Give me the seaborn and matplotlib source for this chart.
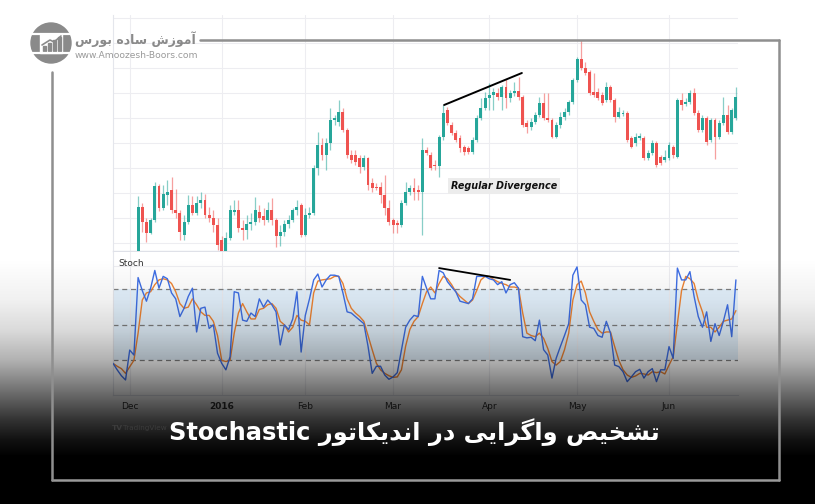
import numpy as np
import pandas as pd
import matplotlib
matplotlib.use("Agg")
import matplotlib.pyplot as plt
import seaborn as sns
from matplotlib.patches import Circle, Rectangle
from matplotlib.lines import Line2D

# ---------------- data ----------------
first_bar = 6
candle_open = [16, 61, 46, 35, 48, 82, 60, 73, 78, 58, 55, 33, 46, 63, 55, 65, 68, 53, 50, 43,
               28, 16, 30, 56, 58, 40, 38, 44, 46, 56, 52, 48, 58, 48, 32, 36, 44, 48, 58, 63,
               33, 53, 55, 100, 123, 113, 125, 148, 146, 156, 138, 113, 113, 110, 101, 110, 85, 81, 81, 73,
               60, 48, 45, 43, 65, 76, 80, 78, 76, 118, 113, 103, 102, 131, 158, 143, 135, 130, 121, 120,
               116, 128, 150, 160, 170, 173, 175, 171, 181, 170, 175, 177, 171, 145, 141, 146, 153, 165, 150, 148,
               131, 143, 151, 156, 166, 188, 209, 200, 196, 176, 176, 173, 168, 181, 168, 151, 154, 155, 130, 125,
               130, 130, 110, 115, 125, 111, 108, 110, 121, 111, 168, 164, 166, 175, 155, 138, 150, 128, 148, 131,
               145, 153, 136, 150]
candle_close = [61, 46, 35, 48, 82, 60, 74, 76, 58, 55, 36, 46, 63, 55, 65, 68, 53, 50, 43, 23,
                16, 30, 58, 58, 40, 38, 44, 46, 58, 50, 48, 58, 48, 32, 36, 44, 48, 58, 61, 33,
                53, 55, 100, 123, 113, 125, 148, 150, 156, 138, 113, 108, 106, 101, 110, 83, 80, 80, 73, 60,
                46, 43, 43, 65, 76, 80, 76, 76, 118, 115, 100, 102, 131, 155, 145, 135, 128, 120, 116, 116,
                128, 150, 160, 170, 173, 176, 171, 181, 170, 175, 177, 171, 143, 141, 146, 153, 165, 150, 148, 131,
                143, 151, 156, 166, 188, 209, 200, 195, 175, 173, 170, 165, 181, 168, 151, 156, 155, 128, 121, 131,
                132, 110, 115, 125, 103, 105, 111, 123, 113, 168, 163, 166, 175, 155, 138, 150, 126, 148, 131, 145,
                153, 136, 158, 171]
candle_high = [72, 65, 50, 50, 86, 84, 83, 88, 91, 79, 58, 53, 73, 72, 72, 76, 74, 61, 58, 50,
               32, 36, 63, 68, 68, 48, 53, 55, 71, 63, 60, 66, 70, 50, 43, 48, 53, 60, 68, 65,
               60, 61, 103, 136, 130, 130, 160, 153, 168, 160, 140, 118, 118, 113, 113, 111, 90, 85, 86, 93,
               68, 50, 48, 68, 86, 83, 90, 83, 130, 121, 116, 108, 133, 163, 161, 146, 138, 133, 123, 122,
               131, 153, 170, 176, 185, 180, 180, 183, 189, 178, 186, 191, 173, 148, 150, 156, 171, 175, 175, 150,
               146, 156, 160, 168, 190, 211, 228, 206, 198, 195, 180, 176, 186, 183, 170, 161, 158, 157, 132, 135,
               135, 132, 118, 128, 127, 113, 118, 126, 123, 170, 175, 170, 178, 180, 158, 153, 152, 150, 150, 148,
               171, 163, 160, 181]
candle_low = [15, 36, 26, 34, 46, 57, 58, 63, 55, 50, 28, 28, 44, 53, 53, 60, 50, 46, 36, 18,
              14, 14, 28, 53, 36, 28, 29, 38, 43, 46, 43, 46, 43, 21, 22, 32, 40, 46, 53, 31,
              32, 50, 53, 93, 108, 98, 118, 143, 142, 136, 110, 105, 103, 95, 98, 78, 76, 78, 65, 53,
              43, 35, 35, 41, 63, 73, 68, 68, 33, 113, 98, 98, 91, 128, 143, 133, 126, 116, 113, 114,
              114, 126, 148, 158, 158, 158, 168, 158, 160, 166, 172, 168, 141, 135, 138, 144, 151, 148, 146, 130,
              130, 140, 148, 153, 164, 186, 198, 193, 173, 171, 168, 163, 166, 166, 146, 150, 152, 126, 120, 122,
              128, 108, 108, 113, 101, 103, 106, 108, 110, 110, 158, 162, 164, 153, 136, 136, 123, 126, 109, 129,
              143, 134, 134, 148]

stoch_k = [17.5, 12, 7, 3.4, 28.7, 24.5, 90, 79, 70, 81, 96, 81, 91, 89, 77, 72, 57, 64, 74, 81,
           44, 64, 65, 47, 50, 26, 17.5, 12, 23, 78, 77, 54, 53, 60, 57, 72, 65, 71, 67, 61,
           33, 50, 46, 55, 78, 27, 58, 72, 88, 93, 82, 88, 92, 92, 91, 77, 61, 60, 57, 54,
           51, 32, 9, 15, 15, 7.6, 4, 6, 9.6, 29, 48, 54, 58, 57, 91, 81, 72, 72, 96, 94,
           86.5, 82, 78, 70, 69, 68, 72, 91, 91, 91, 89, 88, 84, 86.5, 77, 84, 85.6, 81, 40, 39,
           39.5, 36.6, 54, 29, 24.5, 5, 21.7, 31.6, 41, 51, 92, 99, 71, 67, 48, 47, 41, 39.5, 53, 43,
           16, 14.7, 10.4, 2, 6, 10.4, 12.4, 5, 10.4, 13, 2, 12, 12, 31.6, 21.7, 98, 88, 88, 95, 74,
           57, 48, 61, 36, 51, 41, 53, 67, 40, 88]
stoch_d = [17.5, 15, 13, 9, 14.6, 20, 43, 71, 77, 78, 84, 88, 89, 88, 85, 78, 68, 64, 65, 72,
           67, 61, 58, 58, 53, 41, 20, 19, 20, 43, 60, 68, 61, 55, 55, 63, 64, 67, 68, 64,
           53, 50, 44, 48, 58, 54, 53, 50, 77, 87, 88, 88.5, 89, 91, 91, 85, 72, 64, 60, 57,
           53, 41, 29, 17.5, 12, 9, 7, 5.6, 6, 12, 32, 46, 53, 57, 68, 78, 82, 77, 85, 91,
           89, 84, 78, 74, 71, 68, 71, 79, 88, 91, 91, 88.5, 86.5, 85, 84, 82, 82, 81, 60, 43,
           41, 40, 43, 38.6, 30, 19, 16, 19, 29, 43, 71, 84, 87, 77, 61, 53, 46, 43, 44, 44,
           31.6, 20, 12, 7.6, 5.6, 6.8, 9, 8.5, 7.6, 10.4, 9.6, 10.4, 8.5, 16, 23, 51, 79, 91, 89, 85,
           71, 61, 48, 48, 44, 48, 53, 54, 55, 62]
stoch_levels = [20, 50, 80]

month_ticks = [4, 26, 46, 67, 90, 111, 133]
month_labels = ["Dec", "2016", "Feb", "Mar", "Apr", "May", "Jun"]
price_grid = [25, 50, 75, 100, 125, 150, 175, 200, 225, 250]

div_price_x, div_price_y = [79.2, 97.8], [163, 195]
div_stoch_x, div_stoch_y = [78, 95], [98, 88]
div_label = "Regular Divergence"

title_fa = "\u062a\u0634\u062e\u06cc\u0635 \u0648\u0627\u06af\u0631\u0627\u06cc\u06cc \u062f\u0631 \u0627\u0646\u062f\u06cc\u06a9\u0627\u062a\u0648\u0631 Stochastic"
logo_fa = "\u0622\u0645\u0648\u0632\u0634 \u0633\u0627\u062f\u0647 \u0628\u0648\u0631\u0633"
logo_url = "www.Amoozesh-Boors.com"

# ---------------- Persian shaping (presentation forms, visual order) ----------------
FORMS = {
    "\u0627": ("\uFE8D", "\uFE8E", None, None),
    "\u0622": ("\uFE81", "\uFE82", None, None),
    "\u0628": ("\uFE8F", "\uFE90", "\uFE91", "\uFE92"),
    "\u062a": ("\uFE95", "\uFE96", "\uFE97", "\uFE98"),
    "\u062e": ("\uFEA5", "\uFEA6", "\uFEA7", "\uFEA8"),
    "\u062f": ("\uFEA9", "\uFEAA", None, None),
    "\u0631": ("\uFEAD", "\uFEAE", None, None),
    "\u0632": ("\uFEAF", "\uFEB0", None, None),
    "\u0633": ("\uFEB1", "\uFEB2", "\uFEB3", "\uFEB4"),
    "\u0634": ("\uFEB5", "\uFEB6", "\uFEB7", "\uFEB8"),
    "\u0635": ("\uFEB9", "\uFEBA", "\uFEBB", "\uFEBC"),
    "\u0645": ("\uFEE1", "\uFEE2", "\uFEE3", "\uFEE4"),
    "\u0646": ("\uFEE5", "\uFEE6", "\uFEE7", "\uFEE8"),
    "\u0647": ("\uFEE9", "\uFEEA", "\uFEEB", "\uFEEC"),
    "\u0648": ("\uFEED", "\uFEEE", None, None),
    "\u06cc": ("\uFBFC", "\uFBFD", "\uFBFE", "\uFBFF"),
    "\u06a9": ("\uFB8E", "\uFB8F", "\uFB90", "\uFB91"),
    "\u06af": ("\uFB92", "\uFB93", "\uFB94", "\uFB95"),
}


def shape_word(w):
    out = []
    for k, ch in enumerate(w):
        f = FORMS.get(ch)
        if f is None:
            out.append(ch)
            continue
        prev = w[k - 1] if k > 0 else None
        nxt = w[k + 1] if k + 1 < len(w) else None
        jp = prev in FORMS and FORMS[prev][2] is not None
        jn = f[2] is not None and nxt in FORMS
        out.append(f[3] if (jp and jn) else f[1] if jp else f[2] if jn else f[0])
    return "".join(reversed(out))


def rtl(text):
    words = text.split(" ")
    shaped = [shape_word(w) if any(c in FORMS for c in w) else w for w in words]
    return " ".join(reversed(shaped))


# ---------------- figure ----------------
sns.set_theme(style="white")
plt.rcParams["font.family"] = ["DejaVu Sans"]
W, H = 815, 504
fig = plt.figure(figsize=(W / 100, H / 100), dpi=100)
fig.patch.set_facecolor("white")


def box(x0, y0, x1, y1):
    return [x0 / W, 1 - y1 / H, (x1 - x0) / W, (y1 - y0) / H]


GREEN, RED = "#26a69a", "#ef5350"
GRID = "#ededf1"

# price pane
axp = fig.add_axes(box(113, 15, 738, 251))
n = first_bar + len(candle_open)
xs = np.arange(first_bar, n)
o = np.array(candle_open, float)
c = np.array(candle_close, float)
hi = np.array(candle_high, float)
lo = np.array(candle_low, float)
cols = np.where(c >= o, GREEN, RED)
for g in price_grid:
    axp.axhline(g, color=GRID, lw=0.8, zorder=0)
for t in month_ticks:
    axp.axvline(t, color=GRID, lw=0.8, zorder=0)
axp.vlines(xs, lo, hi, colors=cols, lw=0.9, alpha=0.55, zorder=2)
axp.bar(xs, np.where(np.abs(c - o) < 1, 1, c - o), bottom=o, width=0.7, color=cols,
        linewidth=0, zorder=3)
axp.plot(div_price_x, div_price_y, color="black", lw=1.4, zorder=4)
axp.text(80.8, 82, div_label, fontsize=6.9, fontweight="bold", fontstyle="italic",
         color="#111111", va="center", ha="left", zorder=5,
         bbox=dict(boxstyle="square,pad=0.3", fc="#ececec", ec="none"))
axp.set_xlim(0, 149.5)
axp.set_ylim(17, 253)
axp.set_xticks([])
axp.set_yticks([])
for s in ["top", "right"]:
    axp.spines[s].set_visible(False)
axp.spines["left"].set_color("#e4e6ec")
axp.spines["bottom"].set_color("#dfe1e8")
axp.spines["left"].set_linewidth(0.8)
axp.spines["bottom"].set_linewidth(1.0)

# stoch pane
axs = fig.add_axes(box(113, 252, 738, 395))
df = pd.DataFrame({"bar": np.arange(len(stoch_k)), "K": stoch_k, "D": stoch_d})
axs.axhspan(min(stoch_levels), max(stoch_levels), color="#2196f3", alpha=0.12, lw=0, zorder=0)
for t in month_ticks:
    axs.axvline(t, color=GRID, lw=0.8, zorder=0)
axs.axhline(100, color=GRID, lw=0.8, zorder=0)
for lv in stoch_levels:
    axs.axhline(lv, color="#808080", lw=0.9, ls=(0, (4, 3)), zorder=1)
sns.lineplot(data=df, x="bar", y="K", ax=axs, color="#3f6fe6", lw=1.0, zorder=3)
sns.lineplot(data=df, x="bar", y="D", ax=axs, color="#ef8433", lw=1.0, zorder=2)
axs.plot(div_stoch_x, div_stoch_y, color="black", lw=1.3, zorder=4)
axs.text(0.008, 0.92, "Stoch", transform=axs.transAxes, fontsize=6.5, color="#333333",
         va="center", ha="left")
axs.set_xlim(0, 149.5)
axs.set_ylim(-9.3, 111.6)
axs.set_xlabel("")
axs.set_ylabel("")
axs.set_yticks([])
axs.set_xticks(month_ticks)
axs.set_xticklabels(month_labels, fontsize=6.5, color="#333333")
for lab in axs.get_xticklabels():
    if lab.get_text() == "2016":
        lab.set_fontweight("bold")
axs.tick_params(axis="x", length=0, pad=5)
for s in ["top", "right"]:
    axs.spines[s].set_visible(False)
axs.spines["left"].set_color("#e4e6ec")
axs.spines["bottom"].set_color("#dfe1e8")
axs.spines["left"].set_linewidth(0.8)
axs.spines["bottom"].set_linewidth(0.8)

# dark gradient overlay
axo = fig.add_axes([0, 0, 1, 1], zorder=5)
rows = np.arange(H)
alpha = np.interp(rows, [0, 258, 300, 330, 360, 390, 420, 440, 455, H],
                  [0, 0, 0.06, 0.15, 0.31, 0.56, 0.81, 0.94, 1.0, 1.0])
grad = np.zeros((H, 1, 4))
grad[:, 0, 3] = alpha
axo.imshow(grad, aspect="auto", extent=[0, 1, 0, 1], interpolation="bilinear")
axo.set_axis_off()

# decorations on top
axt = fig.add_axes([0, 0, 1, 1], zorder=10)
axt.set_xlim(0, W)
axt.set_ylim(H, 0)
axt.set_axis_off()
axt.patch.set_alpha(0)
FR = "#8f8f8f"
axt.add_line(Line2D([200, 779], [40, 40], color=FR, lw=1.8))
axt.add_line(Line2D([779, 779], [40, 480], color=FR, lw=1.8))
axt.add_line(Line2D([52, 779], [480, 480], color="#9a9a9a", lw=1.8))
axt.add_line(Line2D([52, 52], [72, 480], color=FR, lw=1.8))

# logo
axt.add_patch(Circle((51, 43), 20, color="#8a8a8a"))
axt.add_line(Line2D([32, 70], [34, 34], color="white", lw=1.6))
axt.add_line(Line2D([32, 70], [53, 53], color="white", lw=1.6))
axt.add_patch(Rectangle((40, 34), 22, 19, color="white"))
for bx, bh in zip([43, 48, 53, 58], [5, 8, 11, 14]):
    axt.add_patch(Rectangle((bx, 51 - bh), 2.6, bh, color="#8a8a8a"))
axt.add_line(Line2D([42, 50, 54, 61], [45, 40, 42, 36], color="#8a8a8a", lw=1.2))
axt.text(196, 39, rtl(logo_fa), fontsize=9.0, fontweight="bold", color="#8a8a8a",
         ha="right", va="center")
axt.text(75, 56, logo_url, fontsize=6.6, color="#9a9a9a", ha="left", va="center")

# TradingView mark and title
axt.text(112, 428, "TV", fontsize=5.4, fontweight="bold", color="#3c3c3c", ha="left", va="center")
axt.text(123, 428, "TradingView", fontsize=5.2, color="#3c3c3c", ha="left", va="center")
axt.text(414, 432, rtl(title_fa), fontsize=17.4, fontweight="bold", color="white",
         ha="center", va="center")

fig.savefig("out.png", dpi=100)
